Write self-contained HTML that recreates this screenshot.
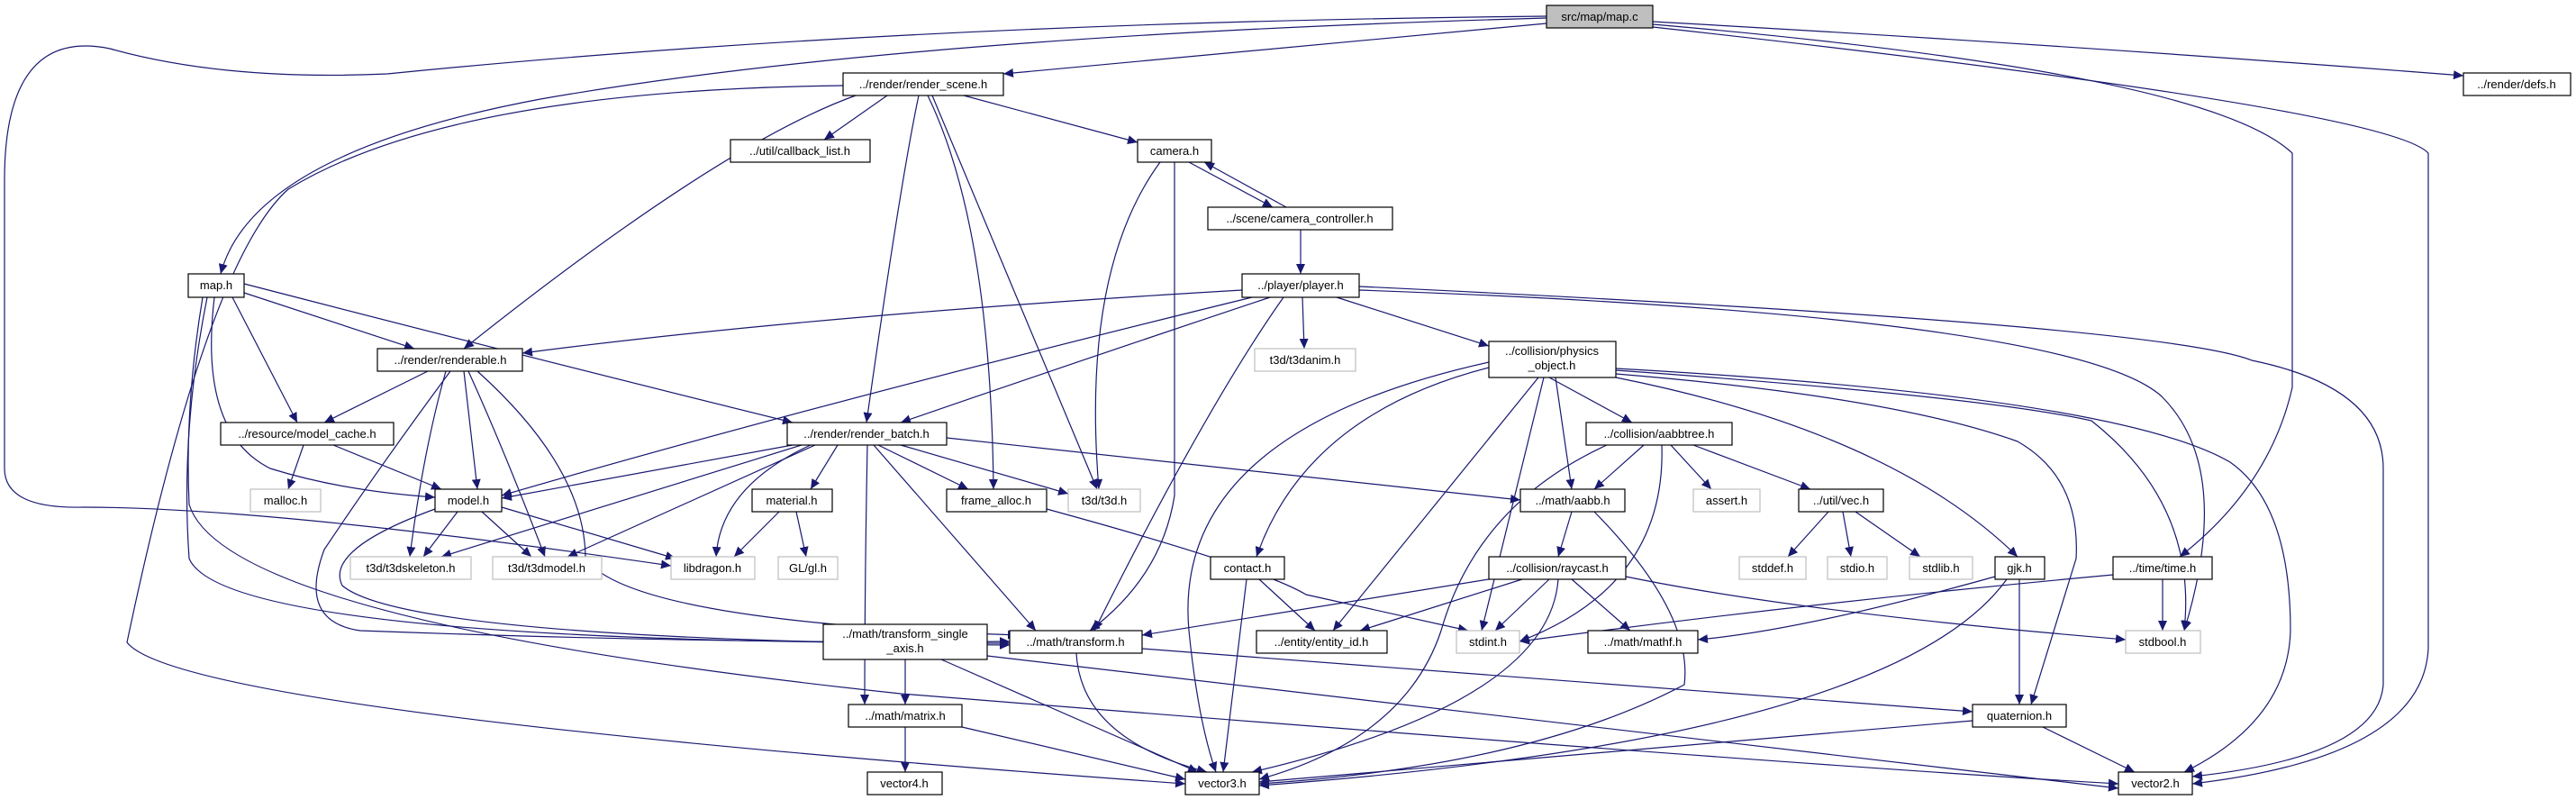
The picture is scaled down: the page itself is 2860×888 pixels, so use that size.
<!DOCTYPE html>
<html><head><meta charset="utf-8"><style>
html,body{margin:0;padding:0;background:#fff;}
svg{display:block;}
text{font-family:"Liberation Sans",sans-serif;font-size:13px;fill:#000;text-anchor:middle;}
.n{fill:#fff;stroke:#000;stroke-width:1.2;}
.g{fill:#fff;stroke:#bfbfbf;stroke-width:1.2;}
.e{fill:none;stroke:#191970;stroke-width:1.2;}
</style></head><body>
<svg width="2860" height="888" viewBox="0 0 2860 888" xmlns="http://www.w3.org/2000/svg">
<defs><marker id="a" markerUnits="userSpaceOnUse" markerWidth="12" markerHeight="10" refX="11" refY="5" orient="auto"><path d="M0,0 L11,5 L0,10 z" fill="#191970"/></marker></defs>
<g class="e" marker-end="url(#a)">
<!-- map.c -->
<path d="M1717,26 L1114,82"/>
<path d="M1835,24 Q2300,50 2735,84"/>
<path d="M1717,20 Q1000,40 600,110 Q280,170 245,304"/>
<path d="M1717,18 Q1000,25 430,82 Q250,90 122,54 Q5,30 5,200 L5,520 Q5,565 92,563 Q300,563 745,628"/>
<path d="M1835,27 Q2450,80 2545,170 L2545,430 Q2520,540 2420,618"/>
<path d="M1835,30 Q2650,120 2696,170 L2696,720 Q2690,840 2434,870"/>
<!-- render_scene -->
<path d="M936,95 Q500,100 320,210 Q230,290 141,713 Q200,790 1316,870"/>
<path d="M985,106 L915,155"/>
<path d="M950,106 Q800,160 515,387"/>
<path d="M1020,106 Q1000,200 962,469"/>
<path d="M1030,106 Q1100,250 1103,543"/>
<path d="M1035,106 L1218,543"/>
<path d="M1070,106 L1263,158"/>
<!-- camera -->
<path d="M1320,180 L1413,230"/>
<path d="M1428,230 L1337,180"/>
<path d="M1288,180 Q1200,300 1220,543"/>
<path d="M1304,180 L1304,550 Q1290,640 1210,700"/>
<path d="M1444,255 L1444,304"/>
<!-- player -->
<path d="M1446,330 L1448,387"/>
<path d="M1484,330 L1653,384"/>
<path d="M1379,322 Q900,350 580,392"/>
<path d="M1410,330 Q1200,400 1000,469"/>
<path d="M1390,330 Q900,450 557,550"/>
<path d="M1425,330 Q1340,450 1215,700"/>
<path d="M1509,322 Q2300,350 2400,440 Q2480,520 2425,700"/>
<path d="M1509,318 Q2400,360 2500,400 Q2646,430 2646,520 L2646,760 Q2640,840 2434,862"/>
<!-- physics_object -->
<path d="M1720,419 L1812,469"/>
<path d="M1727,419 L1745,543"/>
<path d="M1653,408 Q1450,460 1395,618"/>
<path d="M1708,419 L1480,700"/>
<path d="M1714,419 L1645,700"/>
<path d="M1653,402 Q1300,480 1320,700 Q1330,800 1350,857"/>
<path d="M1794,419 Q2100,480 2240,618"/>
<path d="M1794,415 Q2100,440 2240,490 Q2310,530 2305,620 L2255,782"/>
<path d="M1794,411 Q2200,440 2322,467 Q2440,560 2425,700"/>
<path d="M1794,409 Q2350,440 2476,513 Q2543,560 2543,700 Q2540,800 2425,857"/>
<!-- aabbtree -->
<path d="M1825,494 L1770,543"/>
<path d="M1855,494 L1900,543"/>
<path d="M1880,494 L2010,543"/>
<path d="M1845,494 Q1850,650 1687,712"/>
<path d="M1784,494 Q1640,560 1600,700 Q1560,820 1398,865"/>
<!-- aabb -->
<path d="M1745,568 L1730,618"/>
<path d="M1770,568 Q1880,680 1870,760 Q1700,850 1398,870"/>
<!-- raycast -->
<path d="M1653,643 L1268,705"/>
<path d="M1690,643 L1510,700"/>
<path d="M1720,643 L1660,700"/>
<path d="M1745,643 L1810,700"/>
<path d="M1730,643 Q1720,780 1390,857"/>
<path d="M1805,640 Q2000,680 2360,710"/>
<!-- contact -->
<path d="M1398,643 L1460,700"/>
<path d="M1384,643 L1358,857"/>
<!-- vec -->
<path d="M2030,568 L1985,618"/>
<path d="M2046,568 L2055,618"/>
<path d="M2060,568 L2132,618"/>
<!-- gjk -->
<path d="M2215,640 Q2000,700 1885,710"/>
<path d="M2242,643 L2242,782"/>
<path d="M2228,643 Q2100,820 1398,872"/>
<!-- time -->
<path d="M2401,643 L2401,700"/>
<path d="M2346,638 Q2000,670 1687,712"/>
<!-- transform -->
<path d="M1195,725 Q1200,820 1340,857"/>
<path d="M1268,720 L2190,790"/>
<!-- transform_single_axis -->
<path d="M1005,732 L1005,782"/>
<path d="M1045,732 L1330,857"/>
<path d="M1096,728 L2352,875"/>
<!-- matrix -->
<path d="M1005,807 L1005,857"/>
<path d="M1068,807 L1316,865"/>
<!-- quaternion -->
<path d="M2190,800 L1398,868"/>
<path d="M2268,807 L2370,857"/>
<!-- render_batch -->
<path d="M880,494 L557,553"/>
<path d="M890,494 L490,618"/>
<path d="M905,494 L630,618"/>
<path d="M900,494 Q800,540 795,618"/>
<path d="M930,494 L900,543"/>
<path d="M975,494 L1075,543"/>
<path d="M1000,494 L1186,548"/>
<path d="M970,494 L1150,700"/>
<path d="M963,494 Q960,650 960,782"/>
<path d="M1051,486 L1688,555"/>
<!-- renderable -->
<path d="M475,412 L360,469"/>
<path d="M515,412 L530,543"/>
<path d="M495,412 Q470,500 455,618"/>
<path d="M520,412 Q560,500 605,618"/>
<path d="M530,412 Q650,520 650,620 Q700,690 1130,705"/>
<path d="M500,412 Q420,520 360,610 Q330,690 400,700 Q800,715 1121,712"/>
<!-- map.h -->
<path d="M271,325 L460,387"/>
<path d="M258,330 L330,469"/>
<path d="M271,315 Q600,400 880,469"/>
<path d="M238,330 Q220,480 300,520 Q380,545 483,552"/>
<path d="M230,330 Q200,480 210,620 Q250,715 1121,714"/>
<path d="M225,330 Q205,450 210,560 Q250,690 1000,770 Q2000,850 2352,870"/>
<!-- model_cache -->
<path d="M337,494 L320,543"/>
<path d="M370,494 L490,543"/>
<!-- model -->
<path d="M508,568 L470,618"/>
<path d="M535,568 L590,618"/>
<path d="M557,563 L750,620"/>
<path d="M483,565 Q360,610 380,650 Q450,710 1121,716"/>
<!-- material -->
<path d="M865,568 L815,618"/>
<path d="M884,568 L895,618"/>
<!-- frame_alloc -->
<path d="M1162,565 Q1400,630 1450,660 L1630,700"/>
</g>
<!-- nodes -->
<g>
<rect x="1717" y="6" width="118" height="25" fill="#bfbfbf" stroke="#000" stroke-width="1.2"/><text x="1776" y="23">src/map/map.c</text>
<rect class="n" x="936" y="81" width="178" height="25"/><text x="1025" y="98">../render/render_scene.h</text>
<rect class="n" x="2735" y="81" width="119" height="25"/><text x="2794" y="98">../render/defs.h</text>
<rect class="n" x="811" y="155" width="155" height="25"/><text x="888" y="172">../util/callback_list.h</text>
<rect class="n" x="1263" y="155" width="82" height="25"/><text x="1304" y="172">camera.h</text>
<rect class="n" x="1341" y="230" width="205" height="25"/><text x="1443" y="247">../scene/camera_controller.h</text>
<rect class="n" x="209" y="304" width="62" height="26"/><text x="240" y="321">map.h</text>
<rect class="n" x="1379" y="304" width="130" height="26"/><text x="1444" y="321">../player/player.h</text>
<rect class="n" x="419" y="387" width="161" height="25"/><text x="500" y="404">../render/renderable.h</text>
<rect class="g" x="1393" y="387" width="112" height="25"/><text x="1449" y="404">t3d/t3danim.h</text>
<rect class="n" x="1653" y="379" width="141" height="40"/><text x="1723" y="394">../collision/physics</text><text x="1723" y="410">_object.h</text>
<rect class="n" x="245" y="469" width="192" height="25"/><text x="341" y="486">../resource/model_cache.h</text>
<rect class="n" x="874" y="469" width="177" height="25"/><text x="962" y="486">../render/render_batch.h</text>
<rect class="n" x="1761" y="469" width="162" height="25"/><text x="1842" y="486">../collision/aabbtree.h</text>
<rect class="g" x="278" y="543" width="78" height="25"/><text x="317" y="560">malloc.h</text>
<rect class="n" x="483" y="543" width="74" height="25"/><text x="520" y="560">model.h</text>
<rect class="n" x="835" y="543" width="89" height="25"/><text x="879" y="560">material.h</text>
<rect class="n" x="1051" y="543" width="111" height="25"/><text x="1106" y="560">frame_alloc.h</text>
<rect class="g" x="1186" y="543" width="80" height="25"/><text x="1226" y="560">t3d/t3d.h</text>
<rect class="n" x="1688" y="543" width="116" height="25"/><text x="1746" y="560">../math/aabb.h</text>
<rect class="g" x="1880" y="543" width="74" height="25"/><text x="1917" y="560">assert.h</text>
<rect class="n" x="1997" y="543" width="94" height="25"/><text x="2044" y="560">../util/vec.h</text>
<rect class="g" x="389" y="618" width="134" height="25"/><text x="456" y="635">t3d/t3dskeleton.h</text>
<rect class="g" x="547" y="618" width="121" height="25"/><text x="607" y="635">t3d/t3dmodel.h</text>
<rect class="g" x="745" y="618" width="93" height="25"/><text x="791" y="635">libdragon.h</text>
<rect class="g" x="864" y="618" width="66" height="25"/><text x="897" y="635">GL/gl.h</text>
<rect class="n" x="1344" y="618" width="82" height="25"/><text x="1385" y="635">contact.h</text>
<rect class="n" x="1653" y="618" width="152" height="25"/><text x="1729" y="635">../collision/raycast.h</text>
<rect class="g" x="1931" y="618" width="74" height="25"/><text x="1968" y="635">stddef.h</text>
<rect class="g" x="2029" y="618" width="66" height="25"/><text x="2062" y="635">stdio.h</text>
<rect class="g" x="2120" y="618" width="70" height="25"/><text x="2155" y="635">stdlib.h</text>
<rect class="n" x="2215" y="618" width="55" height="25"/><text x="2242" y="635">gjk.h</text>
<rect class="n" x="2346" y="618" width="110" height="25"/><text x="2401" y="635">../time/time.h</text>
<rect class="n" x="914" y="693" width="182" height="39"/><text x="1005" y="708">../math/transform_single</text><text x="1005" y="724">_axis.h</text>
<rect class="n" x="1121" y="700" width="147" height="25"/><text x="1194" y="717">../math/transform.h</text>
<rect class="n" x="1395" y="700" width="145" height="25"/><text x="1467" y="717">../entity/entity_id.h</text>
<rect class="g" x="1617" y="700" width="70" height="25"/><text x="1652" y="717">stdint.h</text>
<rect class="n" x="1763" y="700" width="122" height="25"/><text x="1824" y="717">../math/mathf.h</text>
<rect class="g" x="2360" y="700" width="83" height="25"/><text x="2401" y="717">stdbool.h</text>
<rect class="n" x="942" y="782" width="126" height="25"/><text x="1005" y="799">../math/matrix.h</text>
<rect class="n" x="2190" y="782" width="104" height="25"/><text x="2242" y="799">quaternion.h</text>
<rect class="n" x="963" y="857" width="83" height="25"/><text x="1004" y="874">vector4.h</text>
<rect class="n" x="1316" y="857" width="82" height="25"/><text x="1357" y="874">vector3.h</text>
<rect class="n" x="2352" y="857" width="82" height="25"/><text x="2393" y="874">vector2.h</text>
</g>
</svg>
</body></html>
